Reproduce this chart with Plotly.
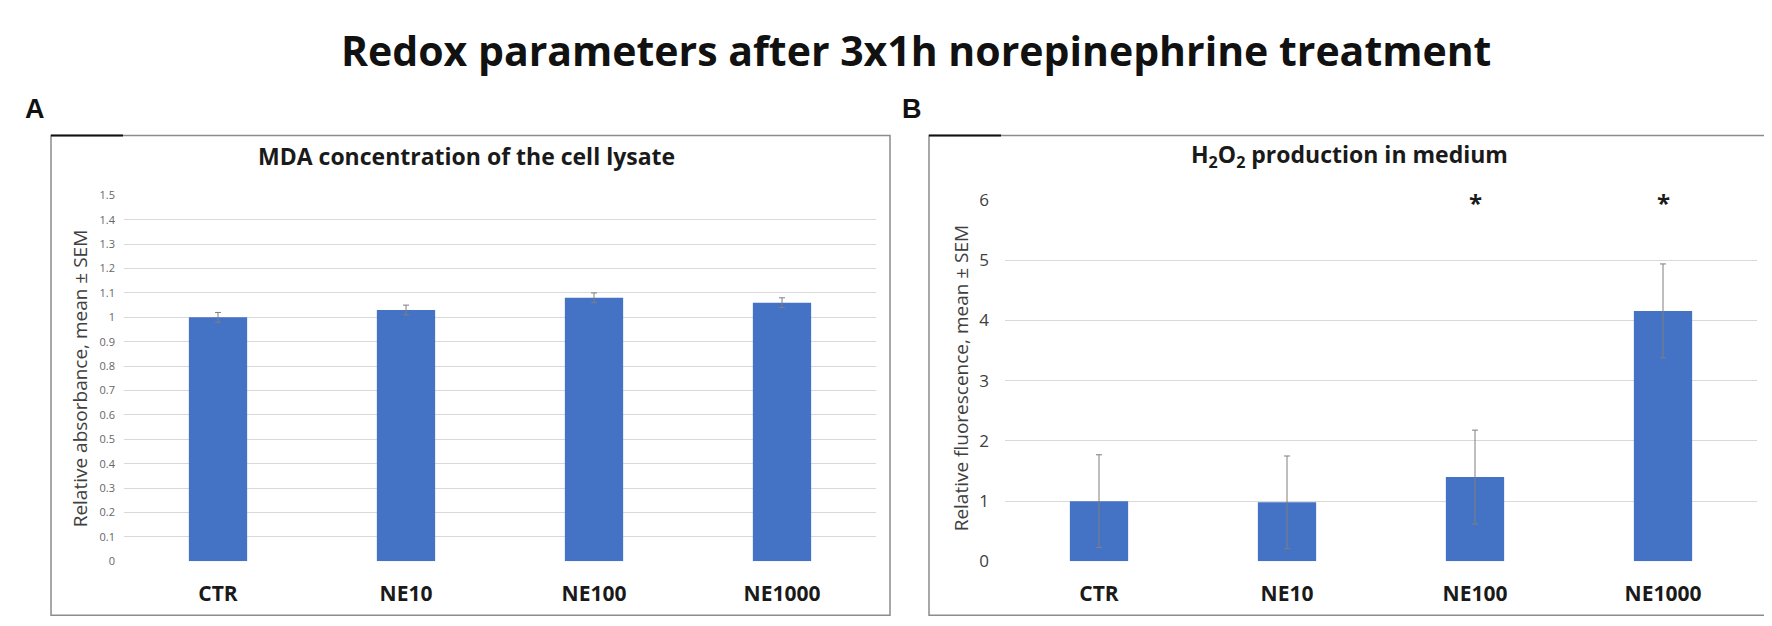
import plotly.graph_objects as go

# data
groups = ['CTR', 'NE10', 'NE100', 'NE1000']
mda_mean = [1.00, 1.03, 1.08, 1.06]
mda_sem = [0.02, 0.02, 0.02, 0.02]
h2o2_mean = [1.00, 0.98, 1.40, 4.16]
h2o2_sem = [0.77, 0.77, 0.78, 0.78]
h2o2_star = ['', '', '*', '*']
star_level = 5.82

W, H = 1772, 626
BAR = '#4472C4'
ERR = '#7f7f7f'
GRID = '#d9d9d9'
FONT = 'Open Sans'


def px(x):
    return x / W


def py(y):
    return 1 - y / H


fig = go.Figure()

fig.add_trace(go.Bar(x=groups, y=mda_mean, width=0.31, marker=dict(color=BAR, line=dict(width=0)),
                     error_y=dict(type='data', array=mda_sem, color=ERR, thickness=1, width=3),
                     xaxis='x', yaxis='y'))
fig.add_trace(go.Bar(x=groups, y=h2o2_mean, width=0.31, marker=dict(color=BAR, line=dict(width=0)),
                     error_y=dict(type='data', array=h2o2_sem, color=ERR, thickness=1, width=3),
                     xaxis='x2', yaxis='y2'))

xstyle = dict(type='category', showgrid=False, zeroline=False, showline=False, ticks='',
              range=[-0.5, 3.5], ticklabelstandoff=18,
              tickfont=dict(family=FONT, size=21, color='#1a1a1a', weight='bold'))

fig.update_layout(
    width=W, height=H, margin=dict(l=0, r=0, t=0, b=0),
    paper_bgcolor='white', plot_bgcolor='white', showlegend=False,
    font=dict(family=FONT),
    xaxis=dict(domain=[px(116), px(868)], anchor='y', **xstyle),
    xaxis2=dict(domain=[px(997), px(1749)], anchor='y2', **xstyle),
    yaxis=dict(domain=[py(562), py(182)], anchor='x', range=[0, 1.5], dtick=0.1,
               showgrid=True, gridcolor=GRID, gridwidth=1, zeroline=False, showline=False,
               ticks='', ticklabelstandoff=8, tickfont=dict(family=FONT, size=11, color='#666666')),
    yaxis2=dict(domain=[py(562), py(187)], anchor='x2', range=[0, 6], dtick=1,
                showgrid=True, gridcolor=GRID, gridwidth=1, zeroline=False, showline=False,
                ticks='', ticklabelstandoff=15, tickfont=dict(family=FONT, size=17, color='#404040')),
)

# significance stars
for g, s in zip(groups, h2o2_star):
    if s:
        fig.add_annotation(x=g, y=star_level, xref='x2', yref='y2', text='<b>*</b>', showarrow=False,
                           yshift=8, font=dict(family=FONT, size=24, color='#1a1a1a'))

# titles and labels
texts = [
    (px(908), py(31), '<b>Redox parameters after 3x1h norepinephrine treatment</b>', 41, '#111111', 0, 'Open Sans'),
    (px(27), py(92), '<b>A</b>', 27, '#111111', 0, 'Liberation Sans'),
    (px(904), py(92), '<b>B</b>', 27, '#111111', 0, 'Liberation Sans'),
    (px(458), py(141), '<b>MDA concentration of the cell lysate</b>', 23, '#1a1a1a', 0, FONT),
    (px(1341), py(141), '<b>H<sub>2</sub>O<sub>2</sub> production in medium</b>', 23, '#1a1a1a', 0, FONT),
    (px(72), py(372), 'Relative absorbance, mean ± SEM', 19, '#404040', -90, FONT),
    (px(953), py(372), 'Relative fluorescence, mean ± SEM', 19, '#404040', -90, FONT),
]
for x, y, t, size, col, ang, fam in texts:
    fig.add_annotation(x=x, y=y, xref='paper', yref='paper', text=t, showarrow=False, textangle=ang,
                       xanchor='center', yanchor='middle', font=dict(family=fam, size=size, color=col))

# panel frames
for x0, x1 in [(43, 882), (921, 1762)]:
    fig.add_shape(type='rect', xref='paper', yref='paper', x0=px(x0), x1=px(x1), y0=py(618), y1=py(120),
                  line=dict(color='#8c8c8c', width=1.5), fillcolor='rgba(0,0,0,0)')
    fig.add_shape(type='line', xref='paper', yref='paper', x0=px(x0), x1=px(x0 + 72), y0=py(120), y1=py(120),
                  line=dict(color='#111111', width=2))

fig.write_html('out.html')
